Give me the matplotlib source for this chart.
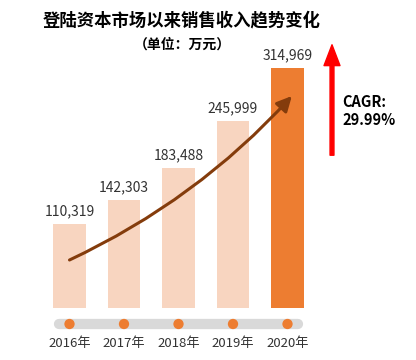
import matplotlib
matplotlib.use("Agg")
import matplotlib.pyplot as plt
from matplotlib.transforms import blended_transform_factory

plt.rcParams['font.family'] = ['Noto Sans CJK SC', 'DejaVu Sans']

years = ["2016年", "2017年", "2018年", "2019年", "2020年"]
values = [110319, 142303, 183488, 245999, 314969]
title = "登陆资本市场以来销售收入趋势变化"
subtitle = "（单位：万元）"
cagr_text = "CAGR:\n29.99%"

W, H = 416, 360
fig = plt.figure(figsize=(W / 100, H / 100), dpi=100)
fig.patch.set_facecolor("white")

# axes placement in pixels
ax_left, ax_bottom, ax_w, ax_h = 42.25, 52, 272.5, 280
ax = fig.add_axes([ax_left / W, ax_bottom / H, ax_w / W, ax_h / H])
ax.set_xlim(-0.5, 4.5)
ymax = values[-1] * ax_h / 240
ax.set_ylim(0, ymax)
ax.axis("off")

x = list(range(len(years)))
colors = ["#F8D5C0"] * 4 + ["#ED7D31"]
ax.bar(x, values, width=0.59, color=colors, zorder=2)

for xi, v in zip(x, values):
    ax.annotate(f"{v:,}", (xi, v), xytext=(0, 4), textcoords="offset points",
                ha="center", va="bottom", fontsize=10, color="#333333")

# timeline
tr = blended_transform_factory(ax.transData, ax.transAxes)
ty = -16 / ax_h
ax.plot([-0.19, 4.19], [ty, ty], transform=tr, color="#D9D9D9", lw=7.4,
        solid_capstyle="round", clip_on=False, zorder=1)
ax.scatter(x, [ty] * len(x), transform=tr, s=55, color="#ED7D31", zorder=3,
           clip_on=False, edgecolors="none")
for xi, lab in zip(x, years):
    ax.text(xi, -35 / ax_h, lab, transform=tr, ha="center", va="center",
            fontsize=9.5, color="#333333")

# curved trend arrow
ax.annotate("", xy=(4.08, 212 / 240 * values[-1]), xytext=(0, 48 / 240 * values[-1]),
            arrowprops=dict(arrowstyle="-|>,head_length=0.9,head_width=0.45",
                            connectionstyle="arc3,rad=0.1", color="#843C0C",
                            lw=2.2, shrinkA=0, shrinkB=0), zorder=4)

# red arrow
fig.patches.append(matplotlib.patches.FancyArrowPatch(
    (332, H - 158), (332, H - 42), transform=None,
    arrowstyle="simple,head_length=1.5,head_width=1.15,tail_width=0.28",
    mutation_scale=10, color="#FF0000"))

fig.text(342 / W, 1 - 111 / H, cagr_text, ha="left", va="center",
         fontsize=10.5, fontweight="bold", color="#000000", linespacing=1.15)

fig.text(182 / W, 1 - 20 / H, title, ha="center", va="center",
         fontsize=12.5, fontweight="bold", color="#000000")
fig.text(182 / W, 1 - 45 / H, subtitle, ha="center", va="center",
         fontsize=10, fontweight="bold", color="#000000")

fig.savefig("out.png", dpi=100)
